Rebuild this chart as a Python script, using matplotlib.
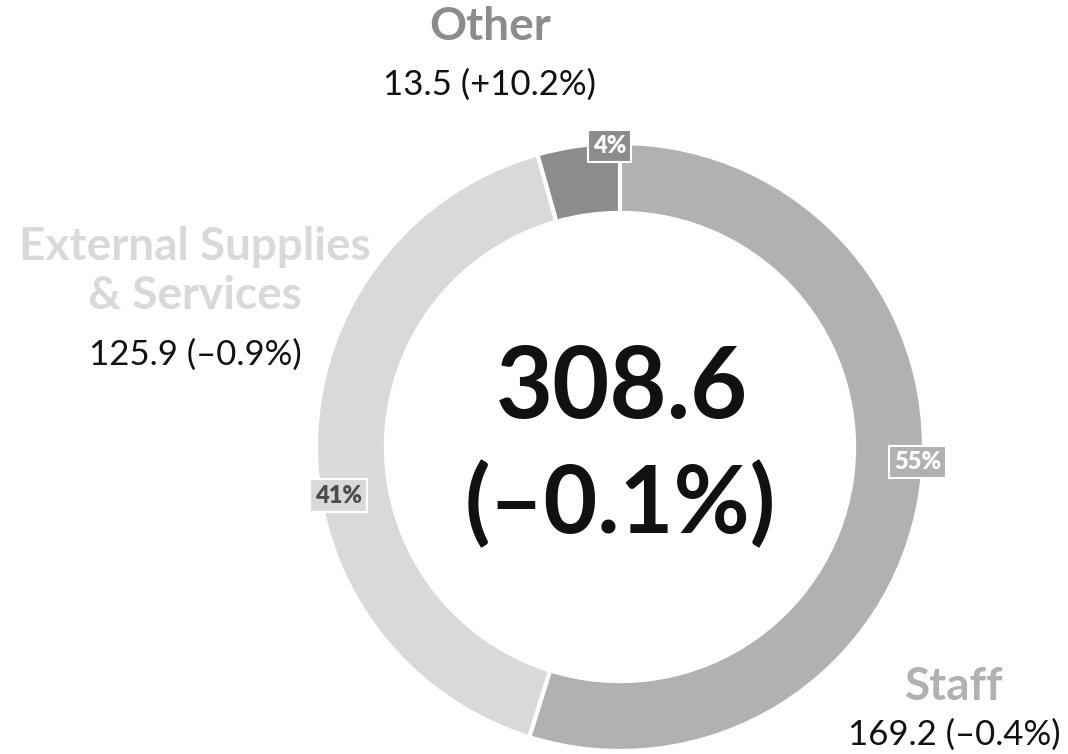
import numpy as np
import matplotlib.pyplot as plt

plt.rcParams['font.family'] = ['Lato', 'DejaVu Sans']

categories = ['Staff', 'External Supplies\n& Services', 'Other']
values = [169.2, 125.9, 13.5]
changes = ['–0.4%', '–0.9%', '+10.2%']
shares = ['55%', '41%', '4%']
colors = ['#b1b1b1', '#d9d9d9', '#8c8c8c']
share_text_colors = ['white', '#4d4d4d', 'white']
total = '308.6'
total_change = '(–0.1%)'

fig = plt.figure(figsize=(10.68, 7.54), dpi=100)
ax = fig.add_axes([0, 0, 1, 1])

ax.pie(values, radius=1, startangle=90, counterclock=False, colors=colors,
       wedgeprops=dict(width=0.23, edgecolor='white', linewidth=3))

# map data units so the ring sits where it does in the reference
cx, cy, r_px = 620, 447, 304
ax.set_xlim(-cx / r_px, (1068 - cx) / r_px)
ax.set_ylim(-(754 - cy) / r_px, cy / r_px)
ax.set_aspect('equal')
ax.axis('off')

# share boxes (angle in deg, radius)
box_pos = [(-2.9, 0.98), (189.8, 0.94), (92.0, 0.99)]
for s, c, tc, (ang, rr) in zip(shares, colors, share_text_colors, box_pos):
    a = np.deg2rad(ang)
    ax.text(rr * np.cos(a), rr * np.sin(a), s, ha='center', va='center',
            fontsize=17, fontweight='heavy', color=tc,
            bbox=dict(boxstyle='square,pad=0.22', facecolor=c,
                      edgecolor='white', linewidth=1.5))

# category labels
label_pos = [(1.10, -0.79, -0.947), (-1.398, 0.577, 0.303), (-0.428, 1.382, 1.191)]
for name, v, ch, c, (x, y1, y2) in zip(categories, values, changes, colors, label_pos):
    ax.text(x, y1, name, ha='center', va='center', fontsize=33,
            fontweight='bold', color=c, linespacing=1.22)
    ax.text(x, y2, f'{v:.1f} ({ch})', ha='center', va='center',
            fontsize=25, color='#111111')

ax.text(0.007, 0.19, total, ha='center', va='center', fontsize=71,
        fontweight='bold', color='#111111')
ax.text(0.0, -0.19, total_change, ha='center', va='center', fontsize=67,
        fontweight='bold', color='#111111')

fig.savefig('out.png', dpi=100)
